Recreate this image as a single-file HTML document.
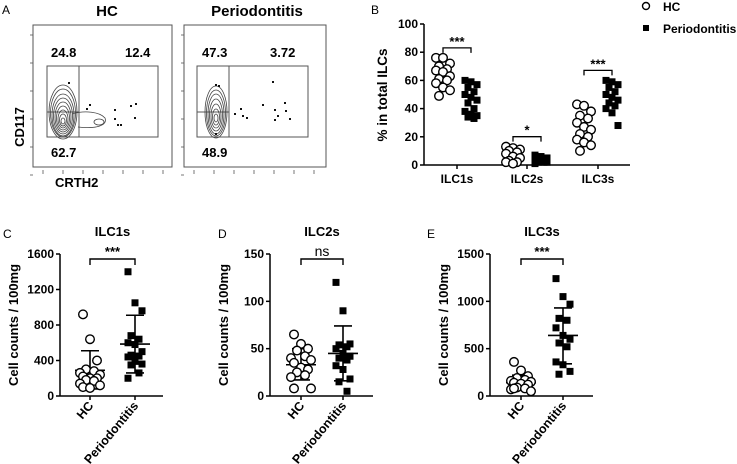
<!DOCTYPE html>
<html><head><meta charset="utf-8"><style>
html,body{margin:0;padding:0;background:#fff;}
svg{display:block;font-family:"Liberation Sans",Arial,sans-serif;}
.b{font-weight:bold;}
</style></head><body>
<svg id="fig" width="737" height="464" viewBox="0 0 737 464">
<g id="panelA">
<text x="2" y="14" font-size="12">A</text>
<text x="107" y="16" font-size="15" class="b" text-anchor="middle">HC</text>
<text x="257" y="16" font-size="15" class="b" text-anchor="middle">Periodontitis</text>
<rect x="33" y="25" width="139" height="142" fill="none" stroke="#555"/>
<rect x="184" y="25" width="142" height="142" fill="none" stroke="#555"/>
<g stroke="#555" fill="none">
<rect x="47" y="66" width="111" height="71"/><line x1="79" y1="66" x2="79" y2="137"/><line x1="47" y1="112" x2="79" y2="112"/></g>
<g stroke="#555" fill="none">
<rect x="197" y="66" width="111" height="71"/><line x1="229" y1="66" x2="229" y2="137"/><line x1="197" y1="112" x2="229" y2="112"/></g>
<g fill="none" stroke="#444" stroke-width="0.8">
<ellipse cx="63" cy="112" rx="14" ry="27"/><ellipse cx="63" cy="113" rx="12.5" ry="24"/><ellipse cx="63" cy="115" rx="11" ry="21"/><ellipse cx="63" cy="116" rx="9.5" ry="18"/><ellipse cx="63" cy="117" rx="8" ry="15"/><ellipse cx="63" cy="118" rx="6.5" ry="12"/><ellipse cx="63" cy="119" rx="5" ry="9"/><ellipse cx="63" cy="120" rx="3.5" ry="6"/><ellipse cx="63" cy="121" rx="2" ry="3"/>
<path d="M72 114 C85 110 100 112 105 118 C108 126 95 129 78 127"/><ellipse cx="99" cy="122" rx="5" ry="3"/></g>
<g fill="none" stroke="#444" stroke-width="0.8">
<ellipse cx="216" cy="112" rx="11" ry="26"/><ellipse cx="216" cy="113" rx="9.5" ry="23"/><ellipse cx="216" cy="114" rx="8" ry="20"/><ellipse cx="216" cy="115" rx="6.5" ry="16"/><ellipse cx="216" cy="116" rx="5" ry="12"/><ellipse cx="216" cy="117" rx="3.5" ry="8"/><ellipse cx="216" cy="118" rx="2" ry="4"/></g>
<g fill="#111">
<rect x="68" y="82" width="2" height="2"/><rect x="89" y="104" width="2" height="2"/><rect x="86" y="108" width="2" height="2"/><rect x="114" y="109" width="2" height="2"/><rect x="114" y="118" width="2" height="2"/><rect x="117" y="124" width="2" height="2"/><rect x="120" y="124" width="2" height="2"/><rect x="130" y="105" width="2" height="2"/><rect x="135" y="103" width="2" height="2"/><rect x="134" y="117" width="2" height="2"/>
<rect x="215" y="84" width="2" height="2"/><rect x="218" y="85" width="2" height="2"/><rect x="215" y="133" width="2" height="2"/><rect x="234" y="113" width="2" height="2"/><rect x="240" y="108" width="2" height="2"/><rect x="242" y="115" width="2" height="2"/><rect x="246" y="117" width="2" height="2"/><rect x="262" y="104" width="2" height="2"/><rect x="272" y="81" width="2" height="2"/><rect x="274" y="109" width="2" height="2"/><rect x="277" y="115" width="2" height="2"/><rect x="284" y="102" width="2" height="2"/><rect x="285" y="110" width="2" height="2"/><rect x="274" y="119" width="2" height="2"/><rect x="289" y="118" width="2" height="2"/></g>
<g font-size="13" class="b">
<text x="51" y="57">24.8</text><text x="125" y="57">12.4</text><text x="51" y="157">62.7</text>
<text x="202" y="57">47.3</text><text x="270" y="57">3.72</text><text x="202" y="157">48.9</text></g>
<text transform="translate(24,127) rotate(-90)" font-size="13" class="b" text-anchor="middle">CD117</text>
<text x="55" y="187" font-size="13" class="b">CRTH2</text>
<g id="aticks" stroke="#555" stroke-width="0.8"></g>
</g>
<g id="panelB">
<text x="371" y="14" font-size="12">B</text>
</g>
<g id="panelC"></g>
<g id="panelD"></g>
<g id="panelE"></g>
</svg>
<script>
const NS="http://www.w3.org/2000/svg";
function mk(p,t,a){const e=document.createElementNS(NS,t);for(const k in a)e.setAttribute(k,a[k]);p.appendChild(e);return e;}
const at=document.getElementById('aticks');
[33,184].forEach(x0=>{
  for(let i=0;i<6;i++){const y=35+i*28;const l=mk(at,'line',{x1:x0-3,y1:y,x2:x0,y2:y});}
  for(let i=0;i<7;i++){const x=x0+10+i*20;const l=mk(at,'line',{x1:x,y1:170,x2:x,y2:174});}
});

// ===== Panel B data =====
const bCategories=["ILC1s","ILC2s","ILC3s"];
const bTicks=[0,20,40,60,80,100];
const bHC_ILC1=[76,76,72,70,68,67,66,63,61,60,58,55,53,49];
const bPD_ILC1=[60,59,57,55,52,50,48,46,44,40,38,36,35,34,33];
const bHC_ILC2=[13,12,11,10,9,8,6,5,3,2,2,1];
const bPD_ILC2=[7,6,5,4,4,3,3,2,2,2,1];
const bHC_ILC3=[43,42,38,35,33,30,27,25,22,20,18,16,14,10];
const bPD_ILC3=[60,59,57,55,52,50,48,46,44,42,40,37,28];
const bSig=["***","*","***"];

(function(){
  const g=document.getElementById('panelB');
  const x0=424,x1=630,y0=165,y1=24;
  const ys=v=>y0-(v/100)*(y0-y1);
  const cx=[457,527,598];
  const hc=[bHC_ILC1,bHC_ILC2,bHC_ILC3], pd=[bPD_ILC1,bPD_ILC2,bPD_ILC3];
  let a=mk(g,'line',{x1:x0,y1:y0,x2:x0,y2:y1,stroke:'#000','stroke-width':1.5});
  
  a=mk(g,'line',{x1:x0,y1:y0,x2:x1,y2:y0,stroke:'#000','stroke-width':1.5});
  
  bTicks.forEach(t=>{
    const l=mk(g,'line',{x1:x0-4,y1:ys(t),x2:x0,y2:ys(t),stroke:'#000','stroke-width':1.5});
    
    const tx=mk(g,'text',{x:x0-6,y:ys(t)+4,'font-size':12,'font-weight':'bold','text-anchor':'end'});tx.textContent=t;
    
  });
  let yl=mk(g,'text',{transform:'translate(387,95) rotate(-90)','font-size':13.5,'font-weight':'bold','text-anchor':'middle'});yl.textContent='% in total ILCs';
  
  bCategories.forEach((c,i)=>{
    const l=mk(g,'line',{x1:cx[i],y1:y0,x2:cx[i],y2:y0+4,stroke:'#000','stroke-width':1.5});
    
    const t=mk(g,'text',{x:cx[i],y:183,'font-size':12,'font-weight':'bold','text-anchor':'middle'});t.textContent=c;
    
    const hx=cx[i]-14, px=cx[i]+14;
    hc[i].forEach((v,j)=>{const off=[-7,0,7,-4,4][j%5];
      const m=mk(g,'circle',{cx:hx+off,cy:ys(v),r:4.3,fill:'#fff',stroke:'#000','stroke-width':1.4});
      });
    pd[i].forEach((v,j)=>{const off=[-6,0,6,-3,3][j%5];
      const m=mk(g,'rect',{x:px+off-3.5,y:ys(v)-3.5,width:7,height:7,fill:'#000'});
      });
    const top=Math.max(...hc[i],...pd[i]);
    const by=ys(top)-10;
    const br=mk(g,'path',{d:`M${hx} ${by+5} V${by} H${px} V${by+5}`,fill:'none',stroke:'#000','stroke-width':1.3});
    
    const st=mk(g,'text',{x:cx[i],y:by-2,'font-size':13,'font-weight':'bold','text-anchor':'middle'});st.textContent=bSig[i];
    
  });
  let m=mk(g,'circle',{cx:646,cy:6,r:3.5,fill:'#fff',stroke:'#000','stroke-width':1.4});
  
  let t=mk(g,'text',{x:663,y:11,'font-size':12,'font-weight':'bold'});t.textContent='HC';
  
  m=mk(g,'rect',{x:643,y:25,width:6,height:6,fill:'#000'});
  
  t=mk(g,'text',{x:663,y:33,'font-size':12,'font-weight':'bold'});t.textContent='Periodontitis';
  
})();

// ===== Panels C/D/E data =====
const cTicks=[0,400,800,1200,1600];
const cHC=[920,640,400,300,280,260,240,220,200,200,180,170,140,120,100,90];
const cPD=[1400,1050,960,680,640,600,580,500,460,450,440,390,360,350,260,200];
const cHCstats=[290,80,510];
const cPDstats=[585,260,910];
const dTicks=[0,50,100,150];
const dHC=[65,55,50,48,42,40,38,35,30,28,25,22,20,8,8];
const dPD=[120,90,55,54,52,50,45,42,40,38,32,28,18,15,5];
const dHCstats=[33,17,50];
const dPDstats=[45,16,74];
const eTicks=[0,500,1000,1500];
const eHC=[360,270,210,190,170,160,150,140,130,120,90,80,70,50,80];
const ePD=[1240,1050,970,820,800,720,640,600,560,520,360,330,260,230];
const eHCstats=[140,60,220];
const ePDstats=[640,340,930];
const groups=["HC","Periodontitis"];

function dotPanel(id,letter,lx,title,ax,hcx,pdx,xend,ticks,hc,pd,hs,ps,sig){
  const g=document.getElementById(id);
  const y0=396,y1=254,max=ticks[ticks.length-1];
  const ys=v=>y0-(v/max)*(y0-y1);
  let t=mk(g,'text',{x:lx,y:238,'font-size':12});t.textContent=letter;
  
  t=mk(g,'text',{x:(hcx+pdx)/2,y:236,'font-size':13,'font-weight':'bold','text-anchor':'middle'});t.textContent=title;
  
  let a=mk(g,'line',{x1:ax,y1:y0,x2:ax,y2:y1,stroke:'#000','stroke-width':1.5});
  
  a=mk(g,'line',{x1:ax,y1:y0,x2:xend,y2:y0,stroke:'#000','stroke-width':1.5});
  
  ticks.forEach(v=>{
    const l=mk(g,'line',{x1:ax-4,y1:ys(v),x2:ax,y2:ys(v),stroke:'#000','stroke-width':1.5});
    
    const tx=mk(g,'text',{x:ax-6,y:ys(v)+4,'font-size':12,'font-weight':'bold','text-anchor':'end'});tx.textContent=v;
    
  });
  t=mk(g,'text',{transform:`translate(${ax-42},${(y0+y1)/2}) rotate(-90)`,'font-size':13,'font-weight':'bold','text-anchor':'middle'});t.textContent='Cell counts / 100mg';
  
  [hcx,pdx].forEach((x,i)=>{
    const l=mk(g,'line',{x1:x,y1:y0,x2:x,y2:y0+4,stroke:'#000','stroke-width':1.5});
    
    const tx=mk(g,'text',{transform:`translate(${x+4},${y0+10}) rotate(-50)`,'font-size':12.5,'font-weight':'bold','text-anchor':'end'});tx.textContent=groups[i];
    
  });
  [[hs,hcx],[ps,pdx]].forEach(([s,x])=>{
    const e=mk(g,'path',{d:`M${x} ${ys(s[1])} V${ys(s[2])} M${x-9} ${ys(s[1])} H${x+9} M${x-9} ${ys(s[2])} H${x+9} M${x-15} ${ys(s[0])} H${x+15}`,stroke:'#000','stroke-width':1.6,fill:'none'});
    
  });
  hc.forEach((v,j)=>{const off=[-7,0,7,-4,4,-10,10][j%7];
    const m=mk(g,'circle',{cx:hcx+off,cy:ys(v),r:4.3,fill:'#fff',stroke:'#000','stroke-width':1.4});
    });
  pd.forEach((v,j)=>{const off=[-7,0,7,-4,4][j%5];
    const m=mk(g,'rect',{x:pdx+off-3.5,y:ys(v)-3.5,width:7,height:7,fill:'#000'});
    });
  const by=259;
  const br=mk(g,'path',{d:`M${hcx} ${by+6} V${by} H${pdx} V${by+6}`,fill:'none',stroke:'#000','stroke-width':1.4});
  
  t=mk(g,'text',{x:(hcx+pdx)/2,y:by-3,'font-size':sig==='ns'?14:13,'font-weight':sig==='ns'?'normal':'bold','text-anchor':'middle'});t.textContent=sig;
  
}
dotPanel('panelC','C',3,'ILC1s',60,90,135,163,cTicks,cHC,cPD,cHCstats,cPDstats,'***');
dotPanel('panelD','D',218,'ILC2s',270,301,343,373,dTicks,dHC,dPD,dHCstats,dPDstats,'ns');
dotPanel('panelE','E',427,'ILC3s',490,521,563,593,eTicks,eHC,ePD,eHCstats,ePDstats,'***');
</script>
</body></html>
